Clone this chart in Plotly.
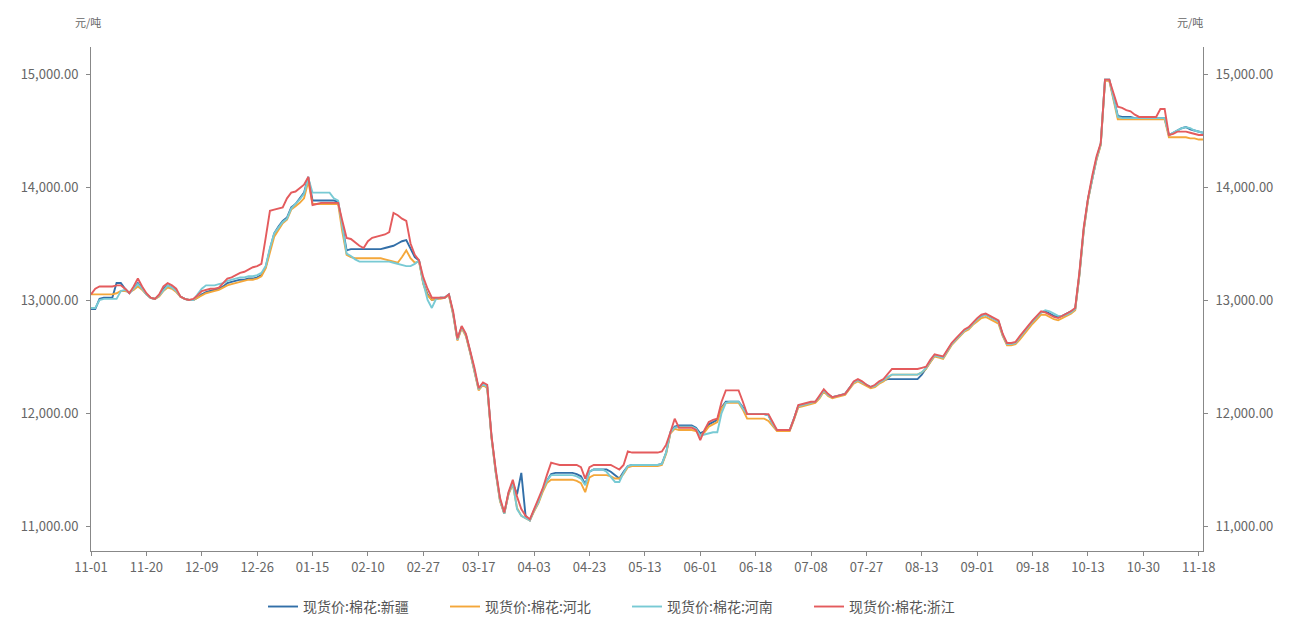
import pandas as pd
import plotly.graph_objects as go

# ---- calendar (working days, incl. make-up workdays) ----
holidays = ["2020-01-01", "2020-01-24", "2020-01-27", "2020-01-28", "2020-01-29",
            "2020-01-30", "2020-01-31", "2020-04-06", "2020-05-01", "2020-05-04",
            "2020-05-05", "2020-06-25", "2020-06-26", "2020-10-01", "2020-10-02",
            "2020-10-05", "2020-10-06", "2020-10-07", "2020-10-08"]
makeup_days = ["2020-01-19", "2020-04-26", "2020-05-09", "2020-06-28", "2020-09-27", "2020-10-10"]
days = set(d.strftime("%Y-%m-%d") for d in pd.bdate_range("2019-11-01", "2020-11-19"))
dates = sorted((days - set(holidays)) | set(makeup_days))

series_names = ["现货价:棉花:新疆", "现货价:棉花:河北", "现货价:棉花:河南", "现货价:棉花:浙江"]
colors = ["#326fa8", "#f4a73a", "#78cad4", "#e45b5d"]

xinjiang = [
    12920,12920,13010,13020,13020,13020,13150,13150,13100,13060,
    13100,13150,13100,13050,13020,13010,13040,13100,13130,13110,
    13080,13030,13010,13000,13000,13020,13050,13070,13080,13090,
    13100,13120,13150,13160,13170,13180,13180,13190,13190,13200,
    13220,13290,13450,13590,13650,13700,13730,13820,13850,13900,
    13950,14090,13880,13880,13880,13880,13880,13880,13870,13650,
    13440,13450,13450,13450,13450,13450,13450,13450,13450,13460,
    13470,13480,13500,13520,13530,13450,13380,13350,13150,13050,
    13000,13010,13020,13020,13050,12880,12650,12760,12690,12540,
    12380,12210,12260,12230,11790,11480,11230,11110,11290,11380,
    11280,11470,11090,11050,11140,11210,11320,11400,11460,11470,
    11470,11470,11470,11470,11460,11440,11370,11480,11500,11500,
    11500,11500,11480,11450,11420,11480,11530,11540,11540,11540,
    11540,11540,11540,11540,11550,11650,11830,11880,11890,11890,
    11890,11890,11870,11820,11840,11900,11920,11940,12050,12100,
    12100,12100,12100,12050,11990,11990,11990,11990,11990,11980,
    11900,11850,11850,11850,11850,11950,12060,12070,12080,12090,
    12100,12140,12200,12160,12140,12150,12160,12170,12220,12270,
    12290,12270,12250,12230,12240,12270,12290,12300,12300,12300,
    12300,12300,12300,12300,12300,12340,12400,12460,12510,12500,
    12490,12550,12610,12650,12690,12730,12750,12790,12830,12860,
    12870,12850,12830,12810,12690,12610,12610,12620,12670,12720,
    12770,12810,12850,12890,12900,12880,12860,12850,12860,12880,
    12900,12920,13230,13620,13890,14080,14250,14380,14950,14950,
    14800,14630,14620,14620,14620,14610,14610,14610,14610,14610,
    14610,14610,14610,14460,14480,14500,14520,14530,14510,14500,
    14490,14480]

hebei = [
    13050,13050,13050,13050,13050,13050,13060,13080,13080,13070,
    13090,13120,13090,13050,13020,13010,13030,13080,13110,13100,
    13070,13030,13010,13000,13000,13020,13040,13060,13070,13080,
    13090,13110,13130,13140,13150,13160,13170,13180,13180,13190,
    13210,13280,13420,13560,13620,13680,13710,13800,13830,13860,
    13900,14050,13850,13850,13850,13850,13850,13850,13850,13600,
    13400,13380,13370,13370,13370,13370,13370,13370,13370,13360,
    13350,13340,13330,13380,13440,13370,13330,13340,13140,13040,
    13000,13010,13010,13020,13040,12870,12640,12750,12680,12530,
    12370,12200,12250,12220,11780,11470,11220,11110,11280,11370,
    11160,11090,11070,11050,11130,11200,11300,11380,11410,11410,
    11410,11410,11410,11410,11400,11380,11300,11430,11450,11450,
    11450,11450,11440,11420,11420,11460,11520,11530,11530,11530,
    11530,11530,11530,11530,11540,11640,11820,11860,11850,11850,
    11850,11850,11840,11800,11830,11880,11900,11920,12040,12090,
    12090,12090,12090,12030,11950,11950,11950,11950,11950,11930,
    11880,11840,11840,11840,11840,11940,12050,12060,12070,12080,
    12090,12130,12190,12150,12130,12140,12150,12160,12210,12260,
    12280,12260,12240,12220,12230,12260,12280,12310,12340,12340,
    12340,12340,12340,12340,12340,12360,12390,12450,12500,12490,
    12480,12540,12600,12640,12680,12720,12740,12780,12810,12840,
    12850,12830,12810,12790,12680,12600,12600,12610,12650,12700,
    12750,12790,12830,12870,12870,12850,12830,12820,12840,12860,
    12880,12910,13220,13610,13880,14070,14240,14370,14940,14940,
    14780,14600,14600,14600,14600,14600,14600,14600,14600,14600,
    14600,14600,14600,14440,14440,14440,14440,14440,14430,14430,
    14420,14420]

henan = [
    12930,12930,13000,13010,13010,13010,13010,13080,13090,13060,
    13100,13140,13100,13050,13020,13010,13040,13090,13130,13110,
    13080,13030,13010,13000,13000,13050,13100,13130,13130,13130,
    13140,13150,13170,13180,13190,13200,13200,13210,13210,13220,
    13240,13300,13460,13590,13640,13690,13720,13810,13850,13890,
    13940,14080,13950,13950,13950,13950,13950,13900,13880,13650,
    13410,13390,13360,13340,13340,13340,13340,13340,13340,13340,
    13340,13330,13320,13310,13300,13300,13320,13350,13150,13000,
    12930,13010,13020,13020,13050,12880,12650,12760,12690,12540,
    12380,12210,12260,12230,11790,11480,11230,11110,11290,11380,
    11150,11090,11070,11050,11140,11210,11320,11400,11450,11450,
    11450,11450,11450,11450,11440,11420,11360,11480,11500,11500,
    11500,11480,11430,11390,11390,11470,11530,11540,11540,11540,
    11540,11540,11540,11540,11550,11650,11830,11870,11880,11880,
    11880,11880,11860,11800,11810,11820,11830,11830,12000,12090,
    12100,12100,12100,12040,11990,11990,11990,11990,11990,11980,
    11900,11850,11850,11850,11850,11950,12060,12070,12080,12090,
    12100,12140,12200,12160,12140,12150,12160,12170,12220,12270,
    12290,12270,12250,12230,12240,12270,12290,12320,12340,12340,
    12340,12340,12340,12340,12340,12360,12400,12460,12510,12500,
    12490,12550,12610,12650,12690,12730,12750,12790,12830,12860,
    12870,12850,12830,12810,12690,12610,12610,12620,12670,12720,
    12770,12810,12850,12890,12910,12900,12880,12860,12860,12870,
    12890,12920,13230,13620,13890,14080,14250,14380,14950,14950,
    14790,14620,14610,14610,14610,14610,14610,14610,14610,14610,
    14610,14610,14610,14460,14480,14500,14520,14530,14520,14500,
    14490,14480]

zhejiang = [
    13050,13100,13120,13120,13120,13120,13130,13130,13100,13060,
    13120,13190,13120,13060,13020,13010,13050,13120,13150,13130,
    13100,13030,13010,13000,13010,13040,13080,13090,13100,13100,
    13110,13150,13190,13200,13220,13240,13250,13270,13290,13300,
    13320,13550,13790,13800,13810,13820,13900,13950,13960,13990,
    14020,14090,13840,13850,13860,13860,13860,13860,13860,13700,
    13550,13540,13510,13480,13460,13520,13550,13560,13570,13580,
    13600,13770,13750,13720,13700,13500,13400,13350,13200,13100,
    13020,13020,13020,13020,13050,12900,12660,12770,12700,12550,
    12400,12220,12270,12250,11800,11500,11250,11120,11300,11410,
    11260,11150,11090,11060,11150,11230,11330,11450,11560,11550,
    11540,11540,11540,11540,11540,11520,11420,11520,11540,11540,
    11540,11540,11540,11520,11500,11540,11660,11650,11650,11650,
    11650,11650,11650,11650,11660,11720,11830,11950,11870,11870,
    11870,11870,11850,11760,11850,11920,11940,11950,12100,12200,
    12200,12200,12200,12100,11990,11990,11990,11990,11990,11990,
    11920,11850,11850,11850,11850,11950,12070,12080,12090,12100,
    12100,12150,12210,12170,12140,12150,12160,12170,12220,12280,
    12300,12280,12250,12230,12250,12280,12300,12350,12390,12390,
    12390,12390,12390,12390,12390,12400,12410,12470,12520,12510,
    12500,12560,12620,12660,12700,12740,12760,12800,12840,12870,
    12880,12860,12840,12820,12700,12620,12620,12630,12680,12730,
    12780,12820,12860,12900,12890,12870,12850,12840,12860,12880,
    12900,12930,13250,13640,13900,14100,14270,14390,14950,14950,
    14830,14710,14700,14680,14670,14640,14620,14620,14620,14620,
    14620,14690,14690,14460,14470,14490,14490,14490,14480,14470,
    14460,14460]

y_ticks = [11000, 12000, 13000, 14000, 15000]
y_range = [10779, 15239]
tick_step = 13
unit = "元/吨"

all_series = [xinjiang, hebei, henan, zhejiang]
for s in all_series:
    assert len(s) == len(dates), (len(s), len(dates))

tickvals = dates[::tick_step]
ticktext = [d[5:] for d in tickvals]

FONT = "Noto Sans CJK SC"
fig = go.Figure()
for name, vals, col in zip(series_names, all_series, colors):
    fig.add_trace(go.Scatter(x=dates, y=vals, name=name, mode="lines",
                             line=dict(color=col, width=1.9)))
# invisible twin for the right-hand axis
fig.add_trace(go.Scatter(x=dates, y=zhejiang, yaxis="y2", mode="lines",
                         line=dict(color="rgba(0,0,0,0)", width=0),
                         showlegend=False, hoverinfo="skip"))

axis_common = dict(range=y_range, tickvals=y_ticks, tickformat=",.2f",
                   showgrid=False, zeroline=False, showline=True, automargin=False,
                   linecolor="#888", linewidth=1, ticks="outside", ticklen=4,
                   tickcolor="#888", ticklabelstandoff=5,
                   tickfont=dict(size=13, color="#666", family=FONT))

fig.update_layout(
    width=1296, height=620,
    margin=dict(l=83, r=101, t=39, b=77),
    paper_bgcolor="white", plot_bgcolor="white",
    font=dict(family=FONT, color="#555"),
    xaxis=dict(type="category", categoryorder="array", categoryarray=dates,
               range=[0, len(dates) - 1], tickvals=tickvals, ticktext=ticktext,
               showgrid=False, zeroline=False, showline=True, linecolor="#888",
               ticks="outside", ticklen=4, tickcolor="#888", automargin=False,
               tickangle=0, tickfont=dict(size=13, color="#666", family=FONT)),
    yaxis=dict(**axis_common),
    yaxis2=dict(overlaying="y", side="right", **axis_common),
    legend=dict(orientation="h", xref="paper", x=0.1547, xanchor="left",
                yref="container", y=0.034, yanchor="middle",
                font=dict(size=14, color="#555", family=FONT), itemwidth=30,
                entrywidth=137, entrywidthmode="pixels", traceorder="normal"),
    showlegend=True,
    annotations=[
        dict(text=unit, xref="paper", yref="paper", x=0, y=1, xshift=-3, yshift=25,
             showarrow=False, xanchor="center", yanchor="middle",
             font=dict(size=11, color="#666", family=FONT)),
        dict(text=unit, xref="paper", yref="paper", x=1, y=1, xshift=-13, yshift=25,
             showarrow=False, xanchor="center", yanchor="middle",
             font=dict(size=11, color="#666", family=FONT)),
    ],
)

fig.write_html("out.html")
